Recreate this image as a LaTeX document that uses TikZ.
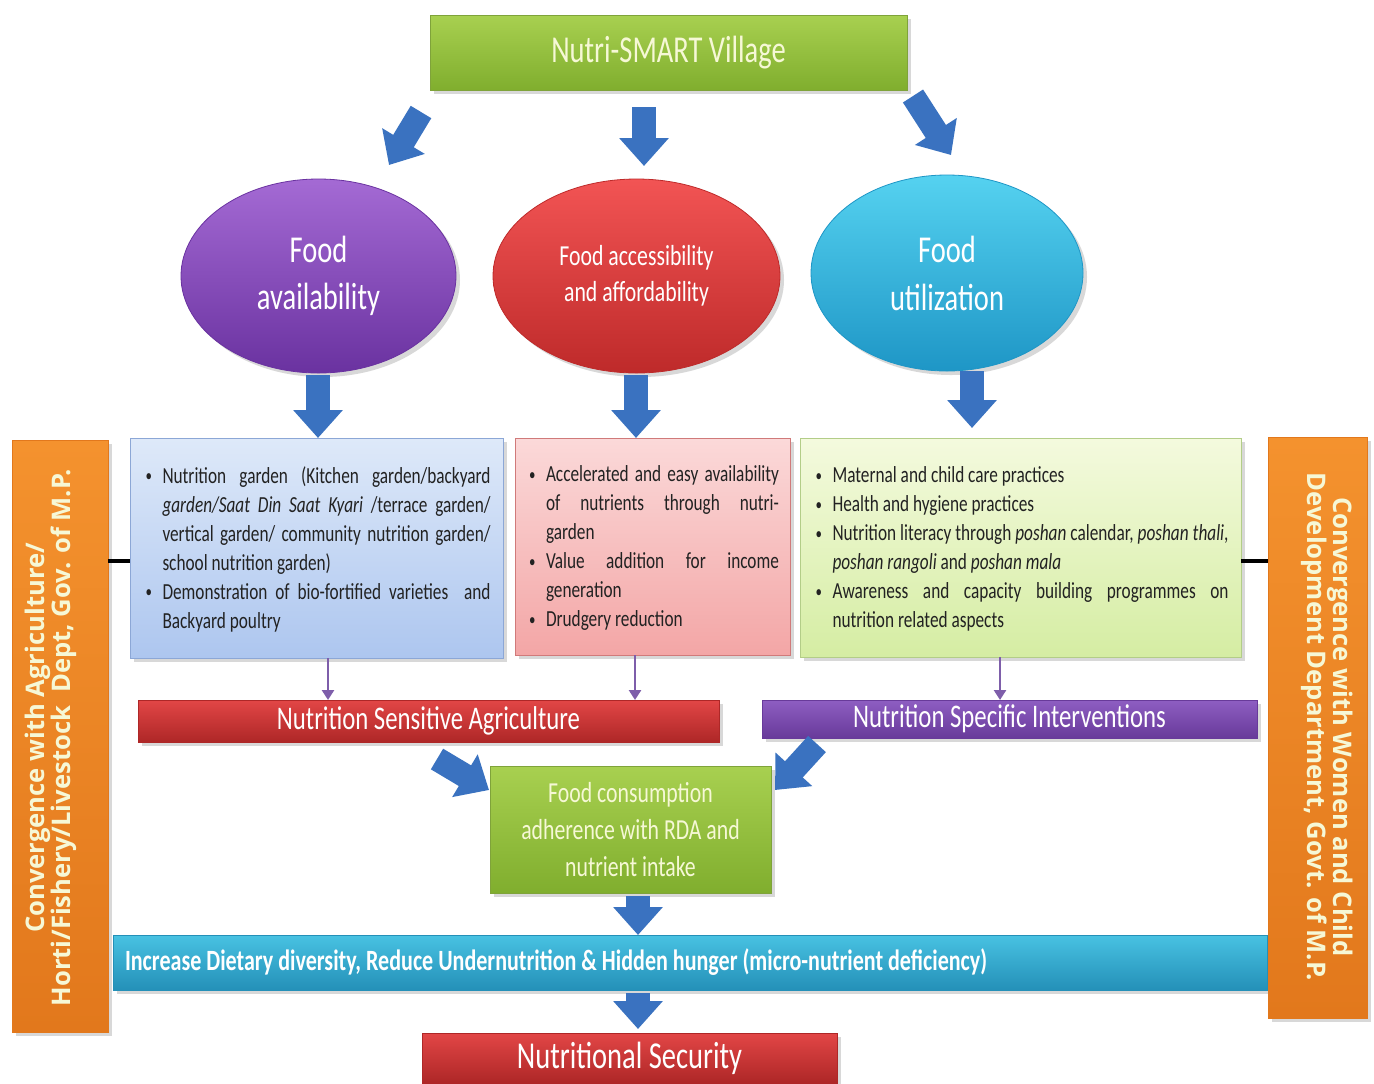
\documentclass[tikz,border=0pt]{standalone}
\usepackage{fontspec}
\setmainfont{Carlito}[FakeStretch=0.75]
\newfontfamily\sidefont{Open Sans}
\usetikzlibrary{shapes.geometric,shadows,calc,arrows.meta}

\definecolor{arrowblue}{HTML}{3A72C0}
\definecolor{grtop}{HTML}{A8D050}
\definecolor{grbot}{HTML}{80AE2E}
\definecolor{grline}{HTML}{7FA33A}
\definecolor{lightyel}{HTML}{F6F8D6}
\definecolor{bltop}{HTML}{DEE9F9}
\definecolor{blbot}{HTML}{ADC6EF}
\definecolor{blline}{HTML}{8CA7D6}
\definecolor{rdtop}{HTML}{FBD9D9}
\definecolor{rdbot}{HTML}{F3A6A6}
\definecolor{rdline}{HTML}{D07A7A}
\definecolor{lgtop}{HTML}{F4FADE}
\definecolor{lgbot}{HTML}{D5EDA3}
\definecolor{lgline}{HTML}{B3CD88}
\definecolor{redtop}{HTML}{E24646}
\definecolor{redbot}{HTML}{AE2727}
\definecolor{purtop}{HTML}{8E5EC2}
\definecolor{purbot}{HTML}{683A9A}
\definecolor{cytop}{HTML}{48C2E2}
\definecolor{cybot}{HTML}{2490B8}
\definecolor{ortop}{HTML}{F4922E}
\definecolor{orbot}{HTML}{E2781C}
\definecolor{purline}{HTML}{7E5EAA}
\definecolor{bodytext}{HTML}{222222}
\definecolor{e1top}{HTML}{A46AD4}
\definecolor{e1bot}{HTML}{6A32A0}
\definecolor{e2top}{HTML}{F25454}
\definecolor{e2bot}{HTML}{BE2A2A}
\definecolor{e3top}{HTML}{55D2F0}
\definecolor{e3bot}{HTML}{1E96C6}

\newcommand\boxprep{\tolerance=10000\hbadness=10000\hyphenpenalty=10000\relax}
\newcommand\boxend{\par\vspace*{5pt}}
\newcommand\bitem{\par\hangindent=10pt\hangafter=1\noindent\makebox[10pt][l]{\hspace{1.5pt}\raisebox{0.6pt}{\scalebox{0.75}{\textbullet}}}}

\tikzset{
  every node/.style={inner sep=0pt, outer sep=0pt},
  shadowed/.style={drop shadow={shadow xshift=2pt, shadow yshift=-2pt, opacity=0.3}},
  greenblock/.style={rectangle, shadowed, top color=grtop, bottom color=grbot, draw=grline, line width=0.3pt, text=lightyel, align=center},
  redblock/.style={rectangle, shadowed, top color=redtop, bottom color=redbot, draw=redbot, line width=0.3pt, text=white, align=center},
  purblock/.style={rectangle, shadowed, top color=purtop, bottom color=purbot, draw=purbot, line width=0.3pt, text=white, align=center},
  cyblock/.style={rectangle, shadowed, top color=cytop, bottom color=cybot, draw=cybot, line width=0.3pt},
  orblock/.style={rectangle, shadowed, top color=ortop, bottom color=orbot, draw=orbot, line width=0.3pt},
  sidetext/.style={text=lightyel, font=\sidefont\bfseries\fontsize{12.8}{13.2}\selectfont, align=center},
  textbox/.style={rectangle, shadowed, line width=0.4pt, text=bodytext, align=justify,
     font=\fontsize{11.5}{14.5}\selectfont},
  oval/.style={ellipse, shadowed, line width=0.4pt, text=white, align=center},
  bigarrow/.style={draw=arrowblue, line width=12pt, -{Triangle[width=24pt,length=14pt]}},
  thinarrow/.style={draw=purline, line width=1.3pt, -{Triangle[width=6pt,length=5pt]}},
  dashline/.style={draw=black, line width=2pt}
}

\begin{document}
\begin{tikzpicture}[x=0.5pt, y=-0.5pt]
\useasboundingbox[fill=white] (0,0) rectangle (1374,1083);

% top title
\node[greenblock, minimum width=238.5pt, minimum height=37.5pt, font=\fontsize{19}{23}\selectfont] (title) at (668.5,52.5) {Nutri-SMART Village};

% ellipses
\node[oval, top color=e1top, bottom color=e1bot, draw=e1bot, minimum width=137.5pt, minimum height=97pt, font=\fontsize{19}{23.5}\selectfont] (avail) at (318.5,276) {Food\\availability};
\node[oval, top color=e2top, bottom color=e2bot, draw=e2bot, minimum width=143.5pt, minimum height=97pt, font=\fontsize{14.5}{18}\selectfont] (access) at (636.5,276) {Food accessibility\\and affordability};
\node[oval, top color=e3top, bottom color=e3bot, draw=e3bot, minimum width=136pt, minimum height=98pt, font=\fontsize{19}{24}\selectfont] (util) at (947,273) {Food\\utilization};

% text boxes
\node[textbox, top color=bltop, bottom color=blbot, draw=blline, minimum width=186.5pt, minimum height=110pt, text width=174pt] (bluebox) at (316.5,548) {\boxprep
\bitem Nutrition garden (Kitchen garden/backyard\linebreak \textit{garden/Saat Din Saat Kyari} /terrace garden/\linebreak vertical garden/ community nutrition garden/\linebreak school nutrition garden)
\bitem Demonstration of bio-fortified varieties\ \ and\linebreak Backyard poultry\boxend};

\node[textbox, top color=rdtop, bottom color=rdbot, draw=rdline, minimum width=137.5pt, minimum height=108.5pt, text width=126.5pt] (redbox) at (652.5,546.5) {\boxprep
\bitem Accelerated and easy availability\linebreak of nutrients through nutri-\linebreak garden
\bitem Value addition for income\linebreak generation
\bitem Drudgery reduction\boxend};

\node[textbox, top color=lgtop, bottom color=lgbot, draw=lgline, minimum width=220.5pt, minimum height=109.5pt, text width=208pt] (greenbox) at (1020.5,547.5) {\boxprep
\bitem Maternal and child care practices
\bitem Health and hygiene practices
\bitem Nutrition literacy through \textit{poshan} calendar, \textit{poshan thali},\linebreak \textit{poshan rangoli} and \textit{poshan mala}
\bitem Awareness and capacity building programmes on\linebreak nutrition related aspects\boxend};

% bars
\node[redblock, minimum width=290.5pt, minimum height=21pt, font=\fontsize{16.5}{20}\selectfont] (nsa) at (428.5,721) {Nutrition Sensitive Agriculture};
\node[purblock, minimum width=247.5pt, minimum height=19pt, font=\fontsize{16.5}{20}\selectfont] (nsi) at (1009.5,719) {Nutrition Specific Interventions};

\node[greenblock, minimum width=140.5pt, minimum height=63.5pt, font=\fontsize{14.5}{18.5}\selectfont] (fc) at (630.5,829.5) {Food consumption\\adherence with RDA and\\nutrient intake};

\node[cyblock, minimum width=577pt, minimum height=27.5pt] (diet) at (690,962.5) {};
\node[anchor=west, text=white, font=\bfseries\fontsize{14.7}{18}\selectfont] (diettext) at ($(diet.west)+(12,0)$) {Increase Dietary diversity, Reduce Undernutrition \& Hidden hunger (micro-nutrient deficiency)};

\node[redblock, minimum width=207.5pt, minimum height=25pt, font=\fontsize{19}{23}\selectfont] (ns) at (629.5,1058) {Nutritional Security};

% side bars
\node[orblock, minimum width=48pt, minimum height=296pt] (leftbar) at (60,736) {};
\node[sidetext, rotate=90] (lefttext) at (51,738) {Convergence with Agriculture/\\Horti/Fishery/Livestock\ \ Dept, Gov. of M.P.};
\node[orblock, minimum width=49.5pt, minimum height=290.5pt] (rightbar) at (1317.5,727.5) {};
\node[sidetext, rotate=-90] (righttext) at (1327,727) {Convergence with Women and Child\\Development Department, Govt. of M.P.};

% short black links
\draw[dashline] (leftbar.east |- 0,561) -- (bluebox.west |- 0,561);
\draw[dashline] (greenbox.east |- 0,561) -- (rightbar.west |- 0,561);

% block arrows
\coordinate (a1s) at (421,112); \coordinate (a1e) at (389,165);
\coordinate (a2s) at (644,107); \coordinate (a2e) at (644,166);
\coordinate (a3s) at (913,96);  \coordinate (a3e) at (951,155);
\draw[bigarrow] (a1s) -- (a1e);
\draw[bigarrow] (a2s) -- (a2e);
\draw[bigarrow] (a3s) -- (a3e);

\draw[bigarrow] (avail.south -| 318,0) ++(0,2) -- (bluebox.north -| 318,0);
\draw[bigarrow] (access.south -| 636,0) ++(0,2) -- (redbox.north -| 636,0);
\draw[bigarrow] (util.south -| 972,0) ++(0,0) -- ($(greenbox.north -| 972,0)+(0,-10)$);

\coordinate (a4s) at (437,759); \coordinate (a4e) at (489,790);
\coordinate (a5s) at (817,744); \coordinate (a5e) at (775,790);
\draw[bigarrow] (a4s) -- (a4e);
\draw[bigarrow] (a5s) -- (a5e);

\draw[bigarrow] (fc.south -| 638,0) ++(0,3) -- (diet.north -| 638,0);
\draw[bigarrow] (diet.south -| 638,0) ++(0,3) -- ($(ns.north -| 638,0)+(0,-4)$);

% thin purple arrows
\draw[thinarrow] (bluebox.south -| 328,0) -- (nsa.north -| 328,0);
\draw[thinarrow] (redbox.south -| 635,0) -- (nsa.north -| 635,0);
\draw[thinarrow] (greenbox.south -| 1000,0) -- (nsi.north -| 1000,0);
\end{tikzpicture}
\end{document}
